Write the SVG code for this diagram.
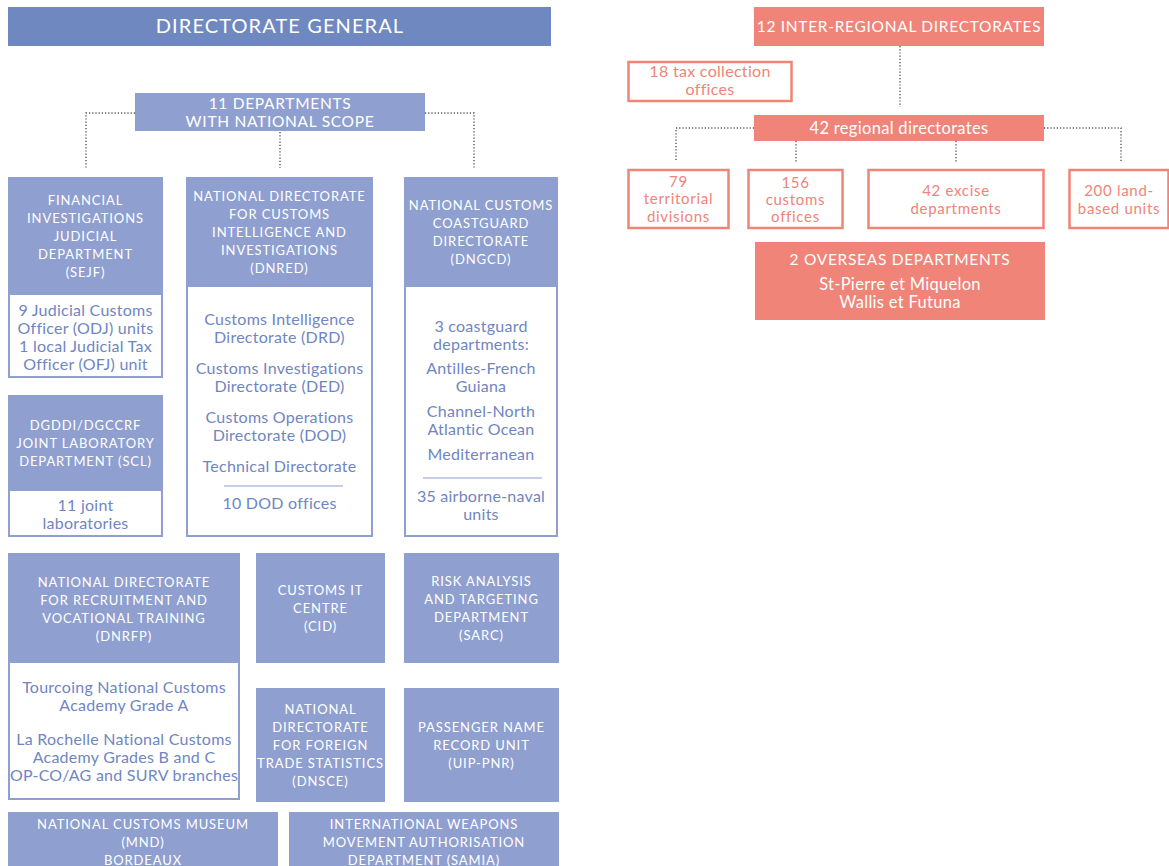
<svg xmlns="http://www.w3.org/2000/svg" width="1169" height="866" viewBox="0 0 1169 866">
<style>
.bg{fill:#ffffff}
.dg{fill:#6f88c0}
.hd{fill:#8f9fcf}
.bd{fill:#ffffff;stroke:#8f9fcf;stroke-width:2}
.co{fill:#f08478}
.cb{fill:#ffffff;stroke:#f08478;stroke-width:2.5}
.sep{stroke:#8f9fcf;stroke-width:1.2}
.dot{fill:none;stroke:#555;stroke-width:1.4;stroke-dasharray:1.2 2}
text{font-family:"Lato","Open Sans",sans-serif;text-anchor:middle}
.cap{fill:#ffffff;font-size:13px;letter-spacing:0.9px}
.capl{fill:#ffffff;font-size:15.5px;letter-spacing:0.7px}
.big{fill:#ffffff;font-size:20px;letter-spacing:1.1px}
.bt{fill:#6f86c2;font-size:16px;letter-spacing:0.25px}
.ct{fill:#f08478;font-size:16px;letter-spacing:0.3px}
.cs{fill:#f08478;font-size:15px;letter-spacing:0.7px}
.wt{fill:#ffffff;font-size:16.5px;letter-spacing:0.3px}
</style>
<rect class="bg" x="0" y="0" width="1169" height="866"/>
<g id="connectors">
<path class="dot" d="M135 113 H86 V168"/>
<path class="dot" d="M280 132 V168"/>
<path class="dot" d="M425 113 H474 V168"/>
<path class="dot" d="M900 46 V107"/>
<path class="dot" d="M754 128 H676 V162"/>
<path class="dot" d="M796 141 V162"/>
<path class="dot" d="M956 141 V162"/>
<path class="dot" d="M1044 128 H1121 V162"/>
</g>
<g id="dg">
<rect class="dg" x="8" y="7" width="543" height="39"/>
<text class="big" x="280" y="33">DIRECTORATE GENERAL</text>
</g>
<g id="depts">
<rect class="hd" x="135" y="93" width="290" height="38"/>
<text class="capl" x="280" y="109">11 DEPARTMENTS</text>
<text class="capl" x="280" y="127">WITH NATIONAL SCOPE</text>
</g>
<g id="sejf">
<rect class="bd" x="9" y="178" width="153" height="199"/>
<rect class="hd" x="8" y="177" width="155" height="118"/>
<text class="cap" x="85.5" y="205">FINANCIAL</text>
<text class="cap" x="85.5" y="223">INVESTIGATIONS</text>
<text class="cap" x="85.5" y="241">JUDICIAL</text>
<text class="cap" x="85.5" y="259">DEPARTMENT</text>
<text class="cap" x="85.5" y="277">(SEJF)</text>
<text class="bt" x="85.5" y="316">9 Judicial Customs</text>
<text class="bt" x="85.5" y="334">Officer (ODJ) units</text>
<text class="bt" x="85.5" y="352">1 local Judicial Tax</text>
<text class="bt" x="85.5" y="370">Officer (OFJ) unit</text>
</g>
<g id="scl">
<rect class="bd" x="9" y="396" width="153" height="140"/>
<rect class="hd" x="8" y="395" width="155" height="96"/>
<text class="cap" x="85.5" y="430">DGDDI/DGCCRF</text>
<text class="cap" x="85.5" y="448">JOINT LABORATORY</text>
<text class="cap" x="85.5" y="466">DEPARTMENT (SCL)</text>
<text class="bt" x="85.5" y="511">11 joint</text>
<text class="bt" x="85.5" y="529">laboratories</text>
</g>
<g id="dnred">
<rect class="bd" x="187" y="178" width="185" height="358"/>
<rect class="hd" x="186" y="177" width="187" height="110"/>
<text class="cap" x="279.5" y="201">NATIONAL DIRECTORATE</text>
<text class="cap" x="279.5" y="219">FOR CUSTOMS</text>
<text class="cap" x="279.5" y="237">INTELLIGENCE AND</text>
<text class="cap" x="279.5" y="255">INVESTIGATIONS</text>
<text class="cap" x="279.5" y="273">(DNRED)</text>
<text class="bt" x="279.5" y="325">Customs Intelligence</text>
<text class="bt" x="279.5" y="343">Directorate (DRD)</text>
<text class="bt" x="279.5" y="374">Customs Investigations</text>
<text class="bt" x="279.5" y="392">Directorate (DED)</text>
<text class="bt" x="279.5" y="423">Customs Operations</text>
<text class="bt" x="279.5" y="441">Directorate (DOD)</text>
<text class="bt" x="279.5" y="472">Technical Directorate</text>
<line class="sep" x1="224" y1="486" x2="343" y2="486"/>
<text class="bt" x="279.5" y="509">10 DOD offices</text>
</g>
<g id="dngcd">
<rect class="bd" x="405" y="178" width="152" height="358"/>
<rect class="hd" x="404" y="177" width="154" height="110"/>
<text class="cap" x="481" y="210">NATIONAL CUSTOMS</text>
<text class="cap" x="481" y="228">COASTGUARD</text>
<text class="cap" x="481" y="246">DIRECTORATE</text>
<text class="cap" x="481" y="264">(DNGCD)</text>
<text class="bt" x="481" y="332">3 coastguard</text>
<text class="bt" x="481" y="350">departments:</text>
<text class="bt" x="481" y="374">Antilles-French</text>
<text class="bt" x="481" y="392">Guiana</text>
<text class="bt" x="481" y="417">Channel-North</text>
<text class="bt" x="481" y="435">Atlantic Ocean</text>
<text class="bt" x="481" y="460">Mediterranean</text>
<line class="sep" x1="423" y1="478" x2="542" y2="478"/>
<text class="bt" x="481" y="502">35 airborne-naval</text>
<text class="bt" x="481" y="520">units</text>
</g>
<g id="dnrfp">
<rect class="bd" x="9" y="554" width="230" height="245"/>
<rect class="hd" x="8" y="553" width="232" height="110"/>
<text class="cap" x="124" y="587">NATIONAL DIRECTORATE</text>
<text class="cap" x="124" y="605">FOR RECRUITMENT AND</text>
<text class="cap" x="124" y="623">VOCATIONAL TRAINING</text>
<text class="cap" x="124" y="641">(DNRFP)</text>
<text class="bt" x="124" y="693">Tourcoing National Customs</text>
<text class="bt" x="124" y="711">Academy Grade A</text>
<text class="bt" x="124" y="745">La Rochelle National Customs</text>
<text class="bt" x="124" y="763">Academy Grades B and C</text>
<text class="bt" x="124" y="781">OP-CO/AG and SURV branches</text>
</g>
<g id="cid">
<rect class="hd" x="256" y="553" width="129" height="110"/>
<text class="cap" x="320.5" y="595">CUSTOMS IT</text>
<text class="cap" x="320.5" y="613">CENTRE</text>
<text class="cap" x="320.5" y="631">(CID)</text>
</g>
<g id="sarc">
<rect class="hd" x="404" y="553" width="155" height="110"/>
<text class="cap" x="481.5" y="586">RISK ANALYSIS</text>
<text class="cap" x="481.5" y="604">AND TARGETING</text>
<text class="cap" x="481.5" y="622">DEPARTMENT</text>
<text class="cap" x="481.5" y="640">(SARC)</text>
</g>
<g id="dnsce">
<rect class="hd" x="256" y="688" width="129" height="114"/>
<text class="cap" x="320.5" y="714">NATIONAL</text>
<text class="cap" x="320.5" y="732">DIRECTORATE</text>
<text class="cap" x="320.5" y="750">FOR FOREIGN</text>
<text class="cap" x="320.5" y="768" letter-spacing="0.4">TRADE STATISTICS</text>
<text class="cap" x="320.5" y="786">(DNSCE)</text>
</g>
<g id="pnr">
<rect class="hd" x="404" y="688" width="155" height="114"/>
<text class="cap" x="481.5" y="732">PASSENGER NAME</text>
<text class="cap" x="481.5" y="750">RECORD UNIT</text>
<text class="cap" x="481.5" y="768">(UIP-PNR)</text>
</g>
<g id="mnd">
<rect class="hd" x="8" y="812" width="270" height="60"/>
<text class="cap" x="143" y="829">NATIONAL CUSTOMS MUSEUM</text>
<text class="cap" x="143" y="847">(MND)</text>
<text class="cap" x="143" y="865">BORDEAUX</text>
</g>
<g id="samia">
<rect class="hd" x="289" y="812" width="270" height="60"/>
<text class="cap" x="424" y="829">INTERNATIONAL WEAPONS</text>
<text class="cap" x="424" y="847">MOVEMENT AUTHORISATION</text>
<text class="cap" x="424" y="865">DEPARTMENT (SAMIA)</text>
</g>
<g id="interreg">
<rect class="co" x="754" y="7" width="290" height="39"/>
<text class="capl" x="899" y="32">12 INTER-REGIONAL DIRECTORATES</text>
</g>
<g id="taxcoll">
<rect class="cb" x="628.5" y="62" width="163" height="39"/>
<text class="ct" x="710" y="77">18 tax collection</text>
<text class="ct" x="710" y="95">offices</text>
</g>
<g id="regional">
<rect class="co" x="754" y="115" width="290" height="26"/>
<text class="wt" x="899" y="134">42 regional directorates</text>
</g>
<g id="territorial">
<rect class="cb" x="628.5" y="170" width="100" height="58"/>
<text class="cs" x="678.5" y="187">79</text>
<text class="cs" x="678.5" y="204">territorial</text>
<text class="cs" x="678.5" y="222">divisions</text>
</g>
<g id="customsoffices">
<rect class="cb" x="748.5" y="170" width="94" height="58"/>
<text class="cs" x="795.5" y="188">156</text>
<text class="cs" x="795.5" y="205">customs</text>
<text class="cs" x="795.5" y="222">offices</text>
</g>
<g id="excise">
<rect class="cb" x="868.5" y="170" width="175" height="58"/>
<text class="cs" x="956" y="196">42 excise</text>
<text class="cs" x="956" y="214">departments</text>
</g>
<g id="landbased">
<rect class="cb" x="1069.5" y="170" width="99" height="58"/>
<text class="cs" x="1119" y="196">200 land-</text>
<text class="cs" x="1119" y="214">based units</text>
</g>
<g id="overseas">
<rect class="co" x="755" y="242" width="290" height="78"/>
<text class="capl" x="900" y="265">2 OVERSEAS DEPARTMENTS</text>
<text class="wt" x="900" y="290">St-Pierre et Miquelon</text>
<text class="wt" x="900" y="308">Wallis et Futuna</text>
</g>
</svg>
